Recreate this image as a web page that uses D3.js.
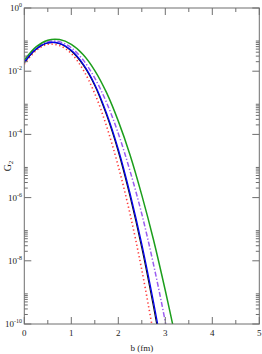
<!DOCTYPE html>
<html>
<head>
<meta charset="utf-8">
<script src="https://cdn.jsdelivr.net/npm/d3@7"></script>
<style>
body { margin: 0; background: #fff; }
svg { display: block; }
text { font-family: "Liberation Serif", "DejaVu Serif", serif; }
</style>
</head>
<body>
<svg width="262" height="354"></svg>
<script>
// impact parameter b (fm)
var bValues = [0, 0.25, 0.5, 0.75, 1, 1.25, 1.5, 1.75, 2, 2.25, 2.5, 2.75, 3, 3.25];

// G2 values
var greenG = [2.24e-2, 5.89e-2, 9.55e-2, 1.00e-1, 7.08e-2, 3.39e-2, 1.05e-2, 2.09e-3, 2.63e-4, 2.24e-5, 1.20e-6, 4.57e-8, 1.15e-9, 2.19e-11];
var purpleG = [2.00e-2, 5.37e-2, 8.71e-2, 8.51e-2, 5.50e-2, 2.29e-2, 6.03e-3, 1.02e-3, 1.07e-4, 6.92e-6, 3.02e-7, 7.59e-9, 1.17e-10, 1.0e-12];
var blueG = [1.91e-2, 5.01e-2, 7.94e-2, 7.59e-2, 4.57e-2, 1.70e-2, 3.80e-3, 4.68e-4, 3.39e-5, 1.35e-6, 3.39e-8, 4.90e-10, 4.68e-12];
var blackG = [1.82e-2, 4.90e-2, 7.76e-2, 7.41e-2, 4.37e-2, 1.58e-2, 3.47e-3, 4.07e-4, 2.82e-5, 1.07e-6, 2.51e-8, 3.39e-10, 3.16e-12];
var redG = [1.66e-2, 4.47e-2, 7.08e-2, 6.46e-2, 3.63e-2, 1.12e-2, 1.95e-3, 1.82e-4, 9.77e-6, 3.02e-7, 5.13e-9, 4.79e-11];

var xTicks = [0, 1, 2, 3, 4, 5];
var yExponents = [0, -2, -4, -6, -8, -10];

var svg = d3.select('svg');
var padL = 24.3, padR = 259.3, padT = 8, padB = 324;

var ScaleX = d3.scaleLinear().domain([0, 5]).range([padL, padR]);
var ScaleY = d3.scaleLog().domain([1e-10, 1]).range([padB, padT]);

svg.append('clipPath').attr('id', 'clip')
    .append('rect')
    .attr('x', padL).attr('y', padT)
    .attr('width', padR - padL).attr('height', padB - padT);

var series = [
    {vals: redG, color: '#ff3b3b', dash: '1.3,2.6', width: 1.6},
    {vals: purpleG, color: '#9a5cf0', dash: '5,2,1.3,2', width: 1.5},
    {vals: greenG, color: '#1c9e1c', dash: null, width: 1.5},
    {vals: blackG, color: '#111', dash: null, width: 1.1},
    {vals: blueG, color: '#0000ee', dash: null, width: 1.3}
];

var line = d3.line()
    .x(function(d){ return ScaleX(d[0]); })
    .y(function(d){ return ScaleY(d[1]); })
    .curve(d3.curveCatmullRom);

var g = svg.append('g').attr('clip-path', 'url(#clip)');
series.forEach(function(s){
    var pts = s.vals.map(function(v, i){ return [bValues[i], v]; });
    g.append('path')
        .attr('d', line(pts))
        .attr('fill', 'none')
        .attr('stroke', s.color)
        .attr('stroke-width', s.width)
        .attr('stroke-dasharray', s.dash);
});

// frame
var axisColor = '#6e6e6e';
svg.append('rect')
    .attr('x', padL).attr('y', padT)
    .attr('width', padR - padL).attr('height', padB - padT)
    .attr('fill', 'none')
    .attr('stroke', axisColor)
    .attr('stroke-width', 1);

// x ticks (inward, bottom and top)
var xMinor = d3.range(0.5, 5, 1);
var ticks = svg.append('g').attr('stroke', axisColor).attr('stroke-width', 1);
xTicks.forEach(function(t){
    ticks.append('line').attr('x1', ScaleX(t)).attr('x2', ScaleX(t)).attr('y1', padB).attr('y2', padB - 7);
    ticks.append('line').attr('x1', ScaleX(t)).attr('x2', ScaleX(t)).attr('y1', padT).attr('y2', padT + 7);
});
xMinor.forEach(function(t){
    ticks.append('line').attr('x1', ScaleX(t)).attr('x2', ScaleX(t)).attr('y1', padB).attr('y2', padB - 4);
    ticks.append('line').attr('x1', ScaleX(t)).attr('x2', ScaleX(t)).attr('y1', padT).attr('y2', padT + 4);
});

// y ticks
yExponents.forEach(function(e){
    var y = ScaleY(Math.pow(10, e));
    ticks.append('line').attr('x1', padL).attr('x2', padL + 7).attr('y1', y).attr('y2', y);
    ticks.append('line').attr('x1', padR).attr('x2', padR - 7).attr('y1', y).attr('y2', y);
    if (e < 0) {
        d3.range(2, 10).forEach(function(k){
            var ym = ScaleY(k * Math.pow(10, e));
            ticks.append('line').attr('x1', padL).attr('x2', padL + 3.5).attr('y1', ym).attr('y2', ym);
            ticks.append('line').attr('x1', padR).attr('x2', padR - 3.5).attr('y1', ym).attr('y2', ym);
        });
    }
});

// x tick labels
xTicks.forEach(function(t){
    svg.append('text')
        .attr('x', ScaleX(t))
        .attr('y', 336)
        .attr('text-anchor', 'middle')
        .attr('font-size', 9)
        .attr('fill', '#222')
        .text(t);
});

// y tick labels 10^n
yExponents.forEach(function(e){
    var t = svg.append('text')
        .attr('x', 22)
        .attr('y', ScaleY(Math.pow(10, e)) + 3)
        .attr('text-anchor', 'end')
        .attr('font-size', 9)
        .attr('fill', '#222');
    t.append('tspan').text('10');
    t.append('tspan').attr('font-size', 6).attr('dy', -4).text(e);
});

// axis titles
svg.append('text')
    .attr('x', (padL + padR) / 2)
    .attr('y', 351)
    .attr('text-anchor', 'middle')
    .attr('font-size', 9)
    .attr('fill', '#222')
    .text('b (fm)');

var yt = svg.append('text')
    .attr('transform', 'translate(11,' + ((padT + padB) / 2) + ') rotate(-90)')
    .attr('text-anchor', 'middle')
    .attr('font-size', 10)
    .attr('fill', '#222');
yt.append('tspan').text('G');
yt.append('tspan').attr('font-size', 7).attr('dy', 2).text('2');
</script>
</body>
</html>
